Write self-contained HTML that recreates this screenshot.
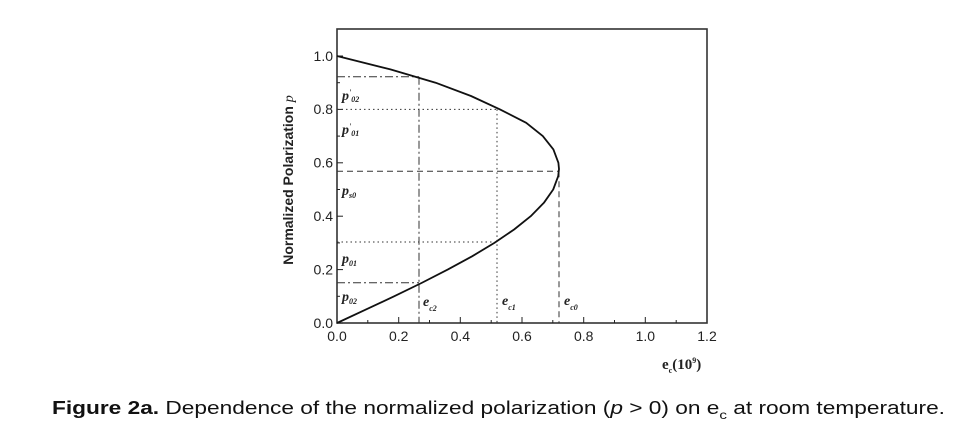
<!DOCTYPE html>
<html><head><meta charset="utf-8"><style>
html,body{margin:0;padding:0;background:#fff;width:959px;height:432px;overflow:hidden}
</style></head><body>
<svg width="959" height="432" viewBox="0 0 959 432" xmlns="http://www.w3.org/2000/svg" font-family="Liberation Sans, sans-serif">
<rect x="337" y="29" width="370" height="294" fill="none" stroke="#333" stroke-width="1.6"/>
<g stroke="#222" stroke-width="1">
<line x1="337" y1="323" x2="343" y2="323"/><line x1="337" y1="269.6" x2="343" y2="269.6"/><line x1="337" y1="216.2" x2="343" y2="216.2"/><line x1="337" y1="162.8" x2="343" y2="162.8"/><line x1="337" y1="109.4" x2="343" y2="109.4"/><line x1="337" y1="56" x2="343" y2="56"/>
<line x1="337" y1="296.3" x2="340" y2="296.3"/><line x1="337" y1="242.9" x2="340" y2="242.9"/><line x1="337" y1="189.5" x2="340" y2="189.5"/><line x1="337" y1="136.1" x2="340" y2="136.1"/><line x1="337" y1="82.7" x2="340" y2="82.7"/>
<line x1="398.7" y1="323" x2="398.7" y2="317"/><line x1="460.3" y1="323" x2="460.3" y2="317"/><line x1="522" y1="323" x2="522" y2="317"/><line x1="583.7" y1="323" x2="583.7" y2="317"/><line x1="645.3" y1="323" x2="645.3" y2="317"/>
<line x1="367.8" y1="323" x2="367.8" y2="320"/><line x1="429.5" y1="323" x2="429.5" y2="320"/><line x1="491.2" y1="323" x2="491.2" y2="320"/><line x1="552.8" y1="323" x2="552.8" y2="320"/><line x1="614.5" y1="323" x2="614.5" y2="320"/><line x1="676.2" y1="323" x2="676.2" y2="320"/>
</g>
<g fill="none" stroke="#333" stroke-width="1">
<path d="M337 76.7H419M337 282.7H419M419 76.7V323" stroke-dasharray="8 3 2 3"/>
<path d="M337 109.4H497M337 242H497M497 109.4V323" stroke-dasharray="1.5 3"/>
<path d="M337 171.3H559M559 171.3V323" stroke-dasharray="6 4"/>
</g>
<path fill="none" stroke="#111" stroke-width="1.8" d="M337,323 L365.8,309.6 394.1,296.3 421.5,283 447.7,269.6 472.1,256.3 494.4,242.9 514.1,229.5 530.7,216.2 543.9,202.8 553.2,189.5 558.2,176.2 559,169 558.4,162.8 553.4,149.4 542.8,136.1 526.2,122.8 500,109.4 471,96 435.6,82.7 390.4,69.4 337,56" stroke-linejoin="round"/>
<g font-size="14" fill="#222" text-anchor="end">
<text x="333" y="328">0.0</text><text x="333" y="274.5">0.2</text><text x="333" y="221">0.4</text><text x="333" y="167.5">0.6</text><text x="333" y="114">0.8</text><text x="333" y="61">1.0</text>
</g>
<g font-size="14" fill="#222" text-anchor="middle">
<text x="337" y="341">0.0</text><text x="398.7" y="341">0.2</text><text x="460.3" y="341">0.4</text><text x="522" y="341">0.6</text><text x="583.7" y="341">0.8</text><text x="645.3" y="341">1.0</text><text x="707" y="341">1.2</text>
</g>
<text transform="translate(293,180) rotate(-90)" text-anchor="middle" font-size="14" font-weight="bold" fill="#222">Normalized Polarization <tspan font-style="italic" font-family="Liberation Serif, serif" font-weight="normal">p</tspan></text>
<g font-family="Liberation Serif, serif" font-style="italic" font-weight="bold" fill="#222" font-size="14">
<text x="342" y="100">p<tspan font-size="8" dy="-5">'</tspan><tspan font-size="8" dy="7">02</tspan></text>
<text x="342" y="134">p<tspan font-size="8" dy="-5">'</tspan><tspan font-size="8" dy="7">01</tspan></text>
<text x="342" y="195">p<tspan font-size="8" dy="3">s0</tspan></text>
<text x="342" y="263">p<tspan font-size="8" dy="3">01</tspan></text>
<text x="342" y="301">p<tspan font-size="8" dy="3">02</tspan></text>
<text x="423" y="306">e<tspan font-size="8" dy="5">c2</tspan></text>
<text x="502" y="305">e<tspan font-size="8" dy="5">c1</tspan></text>
<text x="564" y="305">e<tspan font-size="8" dy="5">c0</tspan></text>
<text x="662" y="369" font-style="normal" font-size="15">e<tspan font-size="8" dy="4">c</tspan><tspan dy="-4">(10</tspan><tspan font-size="8" dy="-6">9</tspan><tspan dy="6">)</tspan></text>
</g>
<text x="52" y="414" font-size="18" fill="#111" textLength="893" lengthAdjust="spacingAndGlyphs"><tspan font-weight="bold">Figure 2a.</tspan> Dependence of the normalized polarization (<tspan font-style="italic">p</tspan> &gt; 0) on e<tspan font-size="12" dy="5">c</tspan><tspan dy="-5"> at room temperature.</tspan></text>
</svg>
</body></html>
